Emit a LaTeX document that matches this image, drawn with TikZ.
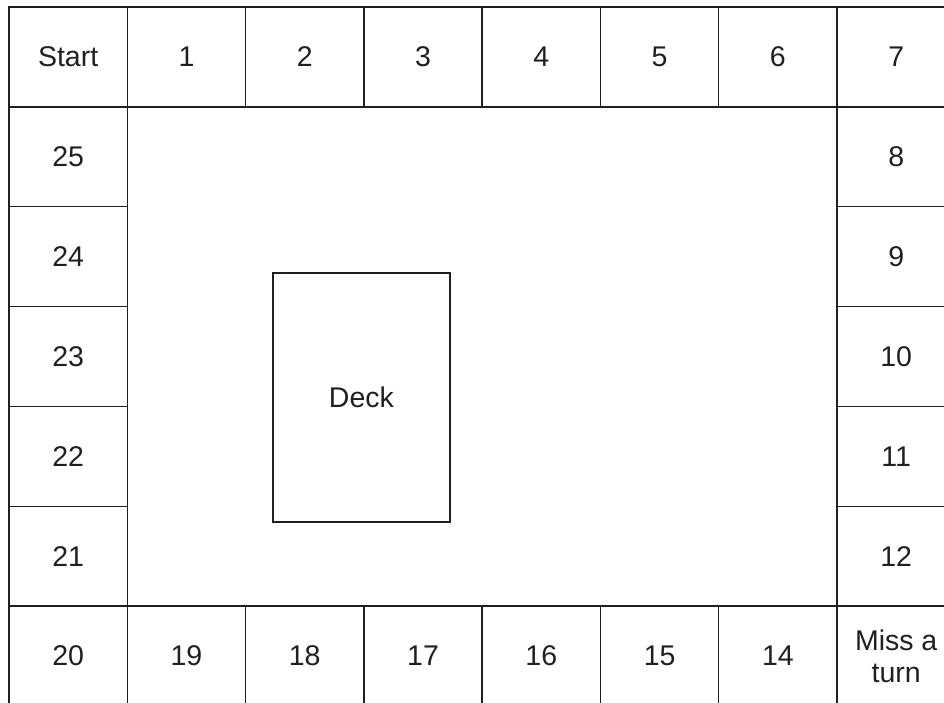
\documentclass[tikz,border=0pt]{standalone}
\usepackage{fontspec}
\setmainfont{Liberation Sans}
\definecolor{ink}{HTML}{231F20}
\begin{document}
\begin{tikzpicture}[x=1pt,y=-1pt,
  cell/.style={draw=ink,line width=1.4pt,minimum width=118.29pt,minimum height=99.86pt,inner sep=0pt,
    text=ink,font=\fontsize{28.5}{32}\selectfont,align=center},
  deckbox/.style={draw=ink,line width=2.2pt,minimum width=177pt,minimum height=249pt,inner sep=0pt,
    text=ink,font=\fontsize{28.5}{32}\selectfont}]
\useasboundingbox (0,0) rectangle (944,702);
\fill[white] (0,0) rectangle (944,702);
\begin{scope}
\clip (0,0) rectangle (944,702);
% top row
\foreach \i/\t in {0/Start,1/1,2/2,3/3,4/4,5/5,6/6,7/7}
  \node[cell] (top\i) at ({9+118.29*(\i+0.5)},{7+99.86*0.5}) {\t};
% left column
\foreach \k/\t in {1/25,2/24,3/23,4/22,5/21}
  \node[cell] (left\k) at ({9+118.29*0.5},{7+99.86*(\k+0.5)}) {\t};
% right column
\foreach \k/\t in {1/8,2/9,3/10,4/11,5/12}
  \node[cell] (right\k) at ({9+118.29*7.5},{7+99.86*(\k+0.5)}) {\t};
% bottom row
\foreach \i/\t in {0/20,1/19,2/18,3/17,4/16,5/15,6/14}
  \node[cell] (bot\i) at ({9+118.29*(\i+0.5)},{7+99.86*6.5}) {\t};
\node[cell] (bot7) at ({9+118.29*7.5},{7+99.86*6.5}) {Miss a\\turn};
\end{scope}
\node[deckbox] (deck) at (361.4,397.4) {Deck};
\end{tikzpicture}
\end{document}
